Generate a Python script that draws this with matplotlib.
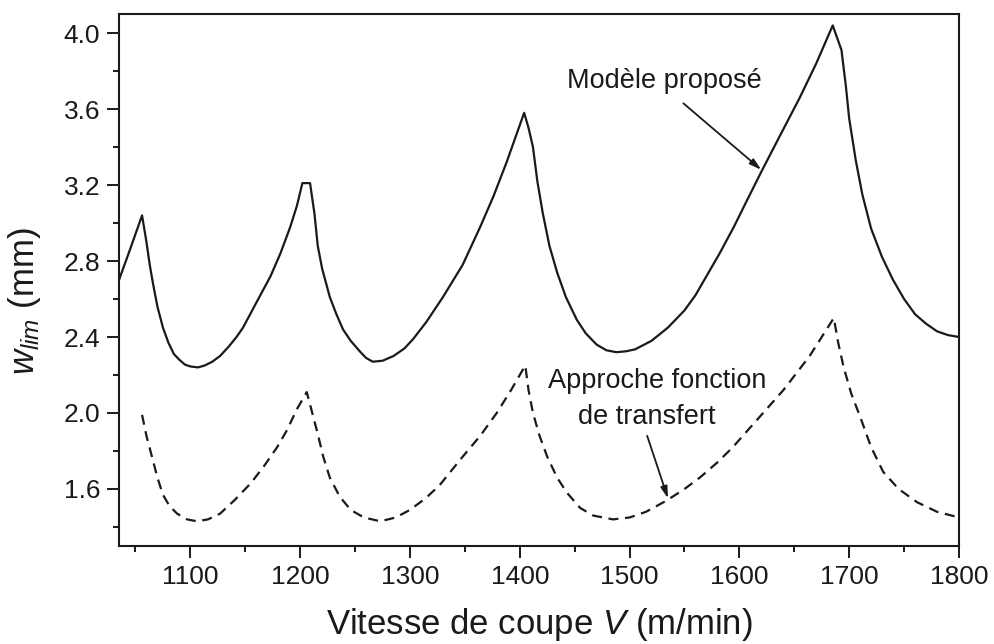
import matplotlib
matplotlib.use('Agg')
import matplotlib.pyplot as plt
from matplotlib.ticker import MultipleLocator

plt.rcParams['font.family'] = ['Liberation Sans', 'DejaVu Sans']
plt.rcParams['mathtext.fontset'] = 'custom'
plt.rcParams['mathtext.rm'] = 'Liberation Sans'
plt.rcParams['mathtext.it'] = 'Liberation Sans:italic'

# Modele propose (solid)
solid_v = [1035, 1045, 1056, 1060, 1063, 1066, 1070, 1075, 1080, 1085, 1090,
           1095, 1100, 1107, 1113, 1120, 1127, 1135, 1142, 1148, 1160, 1173,
           1182, 1191, 1197, 1202, 1209, 1213, 1216, 1220, 1227, 1233, 1239,
           1246, 1255, 1260, 1266, 1275, 1285, 1295, 1303, 1315, 1330, 1348,
           1364, 1376, 1388, 1396, 1404, 1408, 1412, 1416, 1421, 1427, 1434,
           1442, 1452, 1460, 1470, 1479, 1488, 1497, 1505, 1520, 1535, 1550,
           1560, 1570, 1582, 1595, 1607, 1620, 1637, 1655, 1670, 1685, 1693,
           1697, 1700, 1706, 1712, 1720, 1730, 1740, 1750, 1760, 1770, 1780,
           1790, 1800]
solid_w = [2.70, 2.86, 3.04, 2.90, 2.78, 2.68, 2.56, 2.45, 2.37, 2.31, 2.28,
           2.255, 2.245, 2.24, 2.25, 2.27, 2.30, 2.35, 2.40, 2.45, 2.58, 2.72,
           2.84, 2.98, 3.09, 3.21, 3.21, 3.05, 2.88, 2.76, 2.61, 2.52, 2.44,
           2.38, 2.32, 2.29, 2.27, 2.275, 2.30, 2.34, 2.39, 2.48, 2.61, 2.78,
           2.98, 3.14, 3.32, 3.45, 3.58, 3.50, 3.40, 3.22, 3.05, 2.88, 2.74,
           2.61, 2.49, 2.42, 2.36, 2.33, 2.32, 2.325, 2.335, 2.38, 2.45, 2.54,
           2.62, 2.72, 2.84, 2.98, 3.12, 3.27, 3.46, 3.66, 3.84, 4.04, 3.91,
           3.72, 3.55, 3.33, 3.15, 2.97, 2.82, 2.70, 2.60, 2.52, 2.47, 2.43,
           2.41, 2.40]

# Approche fonction de transfert (dashed)
dash_v = [1056, 1060, 1065, 1070, 1075, 1081, 1088, 1097, 1106, 1116, 1127,
          1140, 1155, 1167, 1179, 1188, 1197, 1206, 1211, 1216, 1221, 1227,
          1236, 1246, 1258, 1273, 1287, 1300, 1314, 1327, 1348, 1364, 1379,
          1392, 1405, 1408, 1412, 1418, 1425, 1434, 1443, 1455, 1467, 1485,
          1500, 1515, 1534, 1550, 1564, 1580, 1594, 1617, 1640, 1664, 1686,
          1690, 1695, 1702, 1710, 1720, 1731, 1745, 1762, 1780, 1800]
dash_w = [1.99, 1.88, 1.77, 1.66, 1.57, 1.51, 1.47, 1.44, 1.43, 1.44, 1.47,
          1.54, 1.63, 1.72, 1.82, 1.91, 2.02, 2.11, 2.00, 1.89, 1.77, 1.66,
          1.56, 1.49, 1.45, 1.43, 1.45, 1.49, 1.55, 1.62, 1.77, 1.88, 2.00,
          2.12, 2.25, 2.12, 2.00, 1.88, 1.77, 1.66, 1.58, 1.50, 1.46, 1.44,
          1.45, 1.48, 1.54, 1.60, 1.66, 1.74, 1.82, 1.97, 2.12, 2.30, 2.50,
          2.37, 2.24, 2.10, 1.98, 1.82, 1.69, 1.60, 1.53, 1.48, 1.45]

fig = plt.figure(figsize=(9.95, 6.44), dpi=100)
ax = fig.add_axes([0.1196, 0.1522, 0.8442, 0.826])

ax.plot(solid_v, solid_w, color='#1a1a1a', lw=1.6)
ax.plot(dash_v, dash_w, color='#1a1a1a', lw=1.6, linestyle=(0, (4.5, 3)))

ax.set_xlim(1035, 1800)
ax.set_ylim(1.3, 4.1)
ax.xaxis.set_major_locator(MultipleLocator(100))
ax.xaxis.set_minor_locator(MultipleLocator(50))
ax.yaxis.set_minor_locator(MultipleLocator(0.2))
ax.set_yticks([1.6, 2.0, 2.4, 2.8, 3.2, 3.6, 4.0])
ax.set_yticklabels(['1.6', '2.0', '2.4', '2.8', '3.2', '3.6', '4.0'])

ax.tick_params(which='major', direction='out', length=8.5, width=1.4,
               labelsize=19, colors='#1a1a1a')
ax.tick_params(which='minor', direction='out', length=4.5, width=1.4,
               colors='#1a1a1a')
ax.tick_params(axis='x', which='major', pad=5)
ax.tick_params(axis='y', which='major', pad=5)
ax.tick_params(top=False, right=False, which='both')
for s in ax.spines.values():
    s.set_linewidth(1.5)
    s.set_color('#1a1a1a')

ax.set_xlabel('Vitesse de coupe $V$ (m/min)', fontsize=25, color='#1a1a1a')
ax.xaxis.set_label_coords(0.5, -0.112)
ax.set_ylabel('$w_{lim}$ (mm)', fontsize=25, color='#1a1a1a')
ax.yaxis.set_label_coords(-0.09, 0.46)

ax.text(1532, 3.75, 'Modèle proposé', fontsize=19.5, ha='center', va='center',
        color='#1a1a1a')
ax.annotate('', xy=(1620, 3.28), xytext=(1549, 3.63),
            arrowprops=dict(arrowstyle='-|>,head_width=0.2,head_length=0.7',
                            lw=1.3, color='#1a1a1a', shrinkA=0, shrinkB=0))

ax.text(1525, 2.17, 'Approche fonction', fontsize=19.5, ha='center', va='center',
        color='#1a1a1a')
ax.text(1516, 1.98, 'de transfert', fontsize=19.5, ha='center', va='center',
        color='#1a1a1a')
ax.annotate('', xy=(1535, 1.55), xytext=(1516, 1.88),
            arrowprops=dict(arrowstyle='-|>,head_width=0.2,head_length=0.7',
                            lw=1.3, color='#1a1a1a', shrinkA=0, shrinkB=0))

fig.savefig('out.png', dpi=100)
